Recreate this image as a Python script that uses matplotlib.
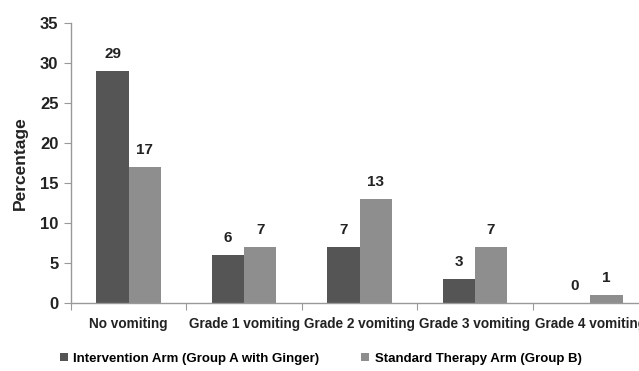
import matplotlib
matplotlib.use('Agg')
import matplotlib.pyplot as plt
import numpy as np

# data
categories = ['No vomiting', 'Grade 1 vomiting', 'Grade 2 vomiting', 'Grade 3 vomiting', 'Grade 4 vomiting']
group_a = [29, 6, 7, 3, 0]
group_b = [17, 7, 13, 7, 1]
labels = ['Intervention Arm (Group A with Ginger)', 'Standard Therapy Arm (Group B)']

plt.rcParams['font.family'] = ['Liberation Sans', 'DejaVu Sans']
plt.rcParams['font.weight'] = 'bold'

fig = plt.figure(figsize=(6.39, 3.71), dpi=100)
ax = fig.add_axes([71/639, 68/371, 577/639, 280/371])

x = np.arange(len(categories)) + 0.5
w = 0.28
dark = '#555555'
light = '#8e8e8e'
b1 = ax.bar(x - w/2, group_a, w, color=dark, label=labels[0])
b2 = ax.bar(x + w/2, group_b, w, color=light, label=labels[1])

for bars, vals in [(b1, group_a), (b2, group_b)]:
    for r, v in zip(bars, vals):
        ax.text(r.get_x() + r.get_width()/2, v + 1.3, str(v), ha='center', va='bottom',
                fontsize=11, fontweight='bold', color='#222222')

ax.set_xlim(0, 5)
ax.set_ylim(0, 35)
ax.set_yticks(range(0, 36, 5))
ax.set_xticks(range(0, 6), minor=False)
ax.set_xticklabels([])
ax.set_xticks(x, minor=True)
ax.set_xticklabels(categories, minor=True, fontsize=9.8, fontweight='bold', color='#222222')
ax.tick_params(axis='x', which='minor', length=0, pad=10)
ax.tick_params(axis='x', which='major', length=5, color='#999999', direction='out')
ax.tick_params(axis='y', length=5, color='#999999', labelsize=12, labelcolor='#222222', pad=4)
for lab in ax.get_yticklabels():
    lab.set_fontweight('bold')

for s in ['top', 'right']:
    ax.spines[s].set_visible(False)
for s in ['left', 'bottom']:
    ax.spines[s].set_color('#999999')
    ax.spines[s].set_linewidth(1)

ax.set_ylabel('Percentage', fontsize=12.5, fontweight='bold', color='#222222', labelpad=9)

fig.legend(handles=[b1, b2], loc='lower left', bbox_to_anchor=(48/639, -0.015), ncol=2,
           frameon=False, handlelength=0.6, handleheight=0.6,
           handletextpad=0.4, columnspacing=3.2, prop={'weight': 'bold', 'size': 9.5})

fig.savefig('out.png', dpi=100)
